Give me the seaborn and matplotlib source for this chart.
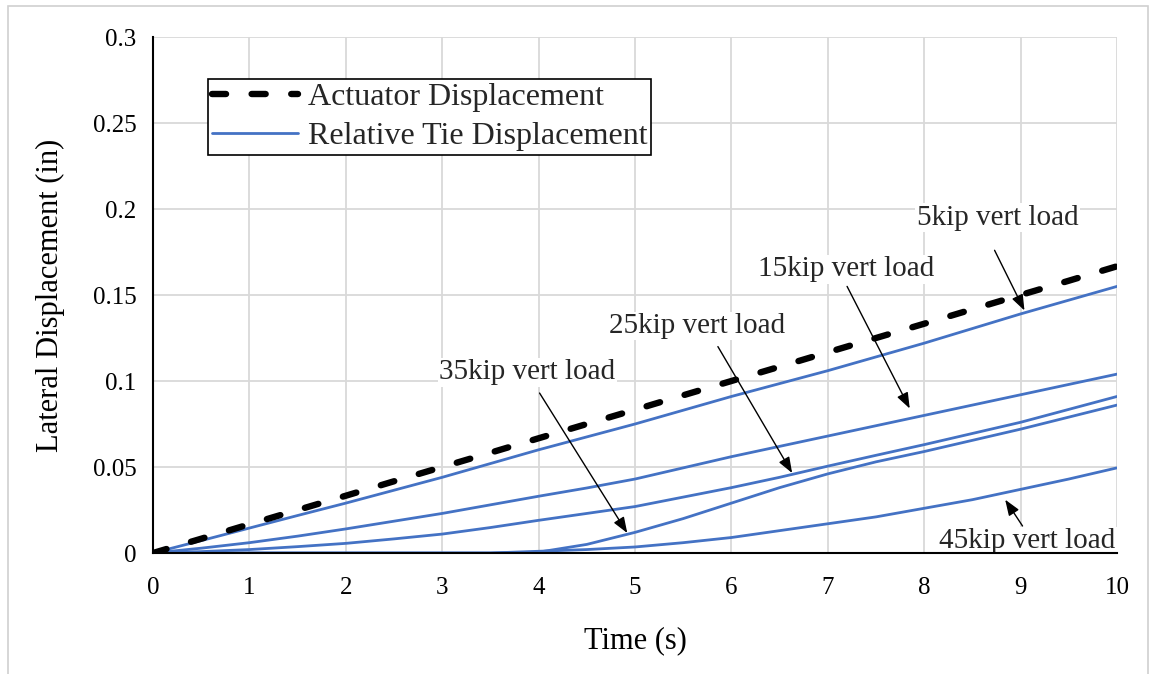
import numpy as np
import pandas as pd
import matplotlib
matplotlib.use("Agg")
import matplotlib.pyplot as plt
import seaborn as sns
from matplotlib.patches import Rectangle
from matplotlib.lines import Line2D

# ---------------- data ----------------
time_s = [0, 0.5, 1, 1.5, 2, 2.5, 3, 3.5, 4, 4.5, 5, 5.5, 6, 6.5, 7, 7.5, 8, 8.5, 9, 9.5, 10]

actuator = [0, 0.0083, 0.0167, 0.025, 0.0333, 0.0417, 0.05, 0.0583, 0.0667, 0.075,
            0.0833, 0.0917, 0.1, 0.1083, 0.1167, 0.125, 0.1333, 0.1417, 0.15, 0.1583, 0.1667]

tie_5kip = [0, 0.0072, 0.0145, 0.0218, 0.029, 0.0365, 0.044, 0.052, 0.060, 0.0675,
            0.075, 0.083, 0.091, 0.0985, 0.106, 0.114, 0.122, 0.1305, 0.139, 0.147, 0.155]
tie_15kip = [0, 0.0028, 0.006, 0.0098, 0.014, 0.0185, 0.023, 0.028, 0.033, 0.0378,
             0.043, 0.0495, 0.056, 0.062, 0.068, 0.074, 0.080, 0.086, 0.092, 0.098, 0.104]
tie_25kip = [0, 0.0008, 0.002, 0.0037, 0.0056, 0.0082, 0.011, 0.0148, 0.019, 0.023,
             0.027, 0.0325, 0.038, 0.044, 0.0505, 0.0568, 0.063, 0.0695, 0.076, 0.0835, 0.091]
tie_35kip = [0, 0, 0, 0, 0, 0, 0, 0, 0.0005, 0.005,
             0.012, 0.020, 0.029, 0.038, 0.046, 0.053, 0.059, 0.0655, 0.072, 0.079, 0.086]
tie_45kip = [0, 0, 0, 0, 0, 0, 0, 0, 0.001, 0.002,
             0.0035, 0.006, 0.009, 0.013, 0.017, 0.021, 0.026, 0.031, 0.037, 0.043, 0.0495]

tie_series = {"5kip": tie_5kip, "15kip": tie_15kip, "25kip": tie_25kip,
              "35kip": tie_35kip, "45kip": tie_45kip}

x_ticks = [0, 1, 2, 3, 4, 5, 6, 7, 8, 9, 10]
y_ticks = [0, 0.05, 0.1, 0.15, 0.2, 0.25, 0.3]
y_tick_labels = ["0", "0.05", "0.1", "0.15", "0.2", "0.25", "0.3"]

# annotation: label, text position (t, v), arrow start, arrow end
ann_labels = ["5kip vert load", "15kip vert load", "25kip vert load", "35kip vert load", "45kip vert load"]
ann_text_xy = [(8.76, 0.195), (7.19, 0.165), (5.64, 0.132), (3.88, 0.105), (9.07, 0.0068)]
ann_arrow_from = [(8.73, 0.176), (7.20, 0.155), (5.86, 0.120), (4.01, 0.093), (9.02, 0.0157)]
ann_arrow_to = [(9.04, 0.141), (7.85, 0.084), (6.63, 0.0465), (4.92, 0.0116), (8.84, 0.031)]

# ---------------- plot ----------------
sns.set_theme(style="white")
plt.rcParams["font.family"] = ["Liberation Serif", "DejaVu Serif"]

fig = plt.figure(figsize=(11.53, 6.74), dpi=100)
ax = fig.add_axes([153/1153, 1-553/674, (1117-153)/1153, (553-37)/674])

blue = "#4472C4"
dash_pat = [2.2, 4.0]
long_df = pd.concat([pd.DataFrame({"time": time_s, "disp": v, "series": k})
                     for k, v in tie_series.items()], ignore_index=True)
sns.lineplot(data=long_df, x="time", y="disp", units="series", estimator=None,
             color=blue, linewidth=2, ax=ax, zorder=3)
act_df = pd.DataFrame({"time": time_s, "disp": actuator})
sns.lineplot(data=act_df, x="time", y="disp", color="black", linewidth=4.6,
             ax=ax, zorder=4)
act_line = ax.lines[-1]
act_line.set_dashes(dash_pat)
act_line.set_dash_capstyle("round")

ax.set_xlim(0, 10)
ax.set_ylim(0, 0.3)
ax.set_xticks(x_ticks)
ax.set_yticks(y_ticks)
ax.set_yticklabels(y_tick_labels)
ax.tick_params(axis="both", length=0, labelsize=18, colors="black")
ax.tick_params(axis="x", pad=17)
ax.tick_params(axis="y", pad=12)
ax.grid(True, color="#d9d9d9", linewidth=1.3)
ax.set_axisbelow(True)
for s in ["top", "right"]:
    ax.spines[s].set_visible(False)
for s in ["left", "bottom"]:
    ax.spines[s].set_color("black")
    ax.spines[s].set_linewidth(1.5)
    ax.spines[s].set_zorder(7)
ax.set_xlabel("Time (s)", fontsize=22, labelpad=20, color="black")
ax.set_ylabel("Lateral Displacement (in)", fontsize=22, labelpad=20, color="black")

# legend
h_act = Line2D([], [], color="black", linewidth=4.6, dashes=dash_pat, dash_capstyle="round")
h_tie = Line2D([], [], color=blue, linewidth=2)
leg = ax.legend([h_act, h_tie], ["Actuator Displacement", "Relative Tie Displacement"],
                loc="upper left", bbox_to_anchor=(0.057, 0.919), fontsize=23,
                frameon=True, fancybox=False, framealpha=1, edgecolor="black",
                handlelength=2.7, handletextpad=0.3, borderpad=0.12, labelspacing=0.3,
                borderaxespad=0)
leg.get_frame().set_linewidth(1.2)

for lab, txy, a0, a1 in zip(ann_labels, ann_text_xy, ann_arrow_from, ann_arrow_to):
    ax.text(txy[0], txy[1], lab, fontsize=21, ha="center", va="center", zorder=5,
            bbox=dict(facecolor="white", edgecolor="none", pad=1))
    ax.annotate("", xy=a1, xytext=a0, zorder=6,
                arrowprops=dict(arrowstyle="-|>,head_length=0.8,head_width=0.3",
                                color="black", linewidth=1, shrinkA=0, shrinkB=0))

fig.add_artist(Rectangle((8/1153, -0.01), (1148-8)/1153, 1-6/674 + 0.01,
                         transform=fig.transFigure, fill=False,
                         edgecolor="#d0d0d0", linewidth=1.2))

fig.savefig("out.png", dpi=100)
